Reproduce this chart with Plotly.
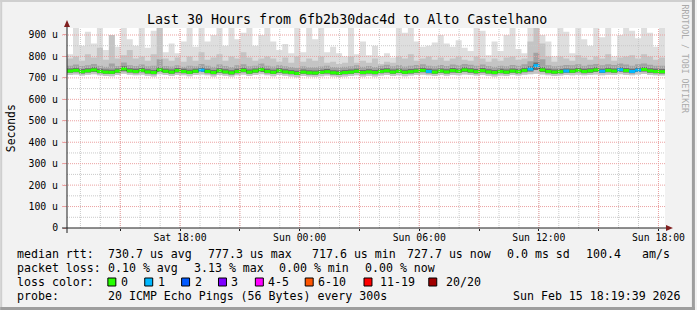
import plotly.graph_objects as go
import pandas as pd

# ---------------- data ----------------
START = "2026-02-14 12:19:39"
END = "2026-02-15 18:19:39"
STEP = "18min"

median = [732, 735, 729, 733, 737, 730, 727, 726, 732, 742,
          733, 730, 735, 728, 725, 737, 731, 727, 734, 730,
          726, 731, 736, 730, 725, 733, 728, 724, 730, 735,
          727, 732, 738, 730, 726, 733, 728, 725, 721, 727,
          724, 723, 726, 729, 724, 722, 725, 727, 731, 725,
          728, 725, 730, 733, 727, 731, 726, 729, 732, 735,
          730, 727, 732, 728, 734, 731, 737, 733, 729, 734,
          728, 725, 730, 727, 732, 729, 735, 741, 757, 737,
          730, 727, 729, 732, 731, 735, 730, 733, 737, 731,
          735, 732, 738, 734, 730, 736, 739, 733, 730, 729]

loss = [0, 0, 0, 0, 0, 0, 0, 0, 0, 0,
        0, 0, 0, 0, 0, 0, 0, 0, 0, 0,
        0, 0, 1, 0, 0, 0, 0, 0, 0, 0,
        0, 0, 0, 0, 0, 0, 0, 0, 0, 0,
        0, 0, 0, 0, 0, 0, 0, 0, 0, 0,
        0, 0, 0, 0, 0, 0, 0, 0, 0, 0,
        1, 0, 0, 0, 0, 0, 0, 0, 0, 0,
        0, 0, 0, 0, 0, 0, 0, 1, 1, 0,
        0, 0, 0, 1, 0, 0, 0, 0, 0, 1,
        0, 0, 1, 0, 1, 1, 0, 0, 0, 0]

top_a = [810, 935, 850, 915, 860, 935, 830, 900, 845, 935,
         880, 850, 935, 840, 920, 935, 820, 860, 815, 870,
         935, 845, 935, 870, 900, 935, 850, 935, 880, 910,
         935, 850, 900, 935, 870, 830, 858, 815, 935, 820,
         935, 880, 935, 820, 845, 815, 800, 935, 810, 870,
         805, 850, 800, 815, 795, 935, 910, 935, 870, 845,
         850, 865, 900, 860, 845, 875, 840, 825, 935, 920,
         805, 870, 825, 900, 935, 835, 815, 935, 935, 900,
         870, 800, 935, 915, 815, 935, 880, 850, 935, 890,
         935, 800, 900, 935, 920, 885, 935, 910, 845, 935]

top_b = [790, 800, 780, 810, 795, 840, 785, 900, 790, 805,
         830, 790, 800, 780, 810, 935, 790, 780, 795, 775,
         800, 780, 820, 785, 795, 810, 780, 800, 790, 820,
         795, 780, 790, 800, 790, 775, 795, 770, 800, 775,
         790, 780, 800, 770, 775, 765, 770, 800, 770, 780,
         770, 790, 765, 775, 770, 800, 790, 810, 780, 790,
         800, 785, 795, 780, 790, 800, 785, 780, 800, 790,
         775, 790, 780, 795, 800, 785, 790, 870, 935, 860,
         800, 775, 800, 790, 780, 805, 795, 785, 800, 790,
         810, 780, 795, 800, 805, 790, 810, 800, 785, 795]

top_c = [757, 762, 755, 759, 765, 757, 752, 767, 755, 772,
         759, 755, 762, 754, 757, 787, 755, 753, 759, 752,
         757, 754, 765, 757, 752, 762, 755, 751, 759, 763,
         754, 757, 767, 757, 753, 759, 754, 751, 747, 754,
         750, 749, 753, 757, 751, 749, 752, 754, 759, 752,
         755, 751, 757, 761, 754, 759, 753, 756, 760, 763,
         757, 754, 760, 755, 762, 759, 765, 761, 757, 762,
         755, 752, 757, 754, 760, 757, 763, 777, 817, 787,
         759, 754, 757, 760, 759, 763, 757, 761, 765, 759,
         763, 760, 767, 762, 757, 764, 767, 761, 757, 756]

top_d = [744, 747, 741, 745, 749, 742, 739, 738, 744, 755,
         745, 742, 747, 740, 737, 749, 743, 739, 746, 742,
         738, 743, 748, 742, 737, 745, 740, 736, 742, 747,
         739, 744, 750, 742, 738, 745, 740, 737, 733, 739,
         736, 735, 738, 741, 736, 734, 737, 739, 743, 737,
         740, 737, 742, 745, 739, 743, 738, 741, 744, 747,
         742, 739, 744, 740, 746, 743, 749, 745, 741, 746,
         740, 737, 742, 739, 744, 741, 747, 754, 772, 749,
         742, 739, 741, 744, 743, 747, 742, 745, 749, 743,
         747, 744, 750, 746, 742, 748, 751, 745, 742, 741]

bot_inner = [724, 726, 721, 725, 728, 722, 719, 718, 724, 731,
             725, 722, 726, 720, 717, 728, 723, 719, 725, 722,
             718, 723, 727, 722, 717, 724, 720, 716, 722, 726,
             719, 724, 728, 722, 718, 724, 720, 717, 713, 719,
             716, 715, 718, 721, 716, 714, 717, 719, 723, 717,
             720, 717, 722, 725, 719, 723, 718, 721, 724, 726,
             722, 719, 724, 720, 725, 723, 728, 724, 721, 725,
             720, 717, 722, 719, 724, 721, 726, 730, 737, 728,
             722, 719, 721, 724, 723, 726, 722, 724, 728, 723,
             726, 724, 729, 725, 722, 727, 730, 724, 722, 721]

bot_outer = [713, 716, 711, 715, 717, 712, 709, 708, 714, 719,
             715, 712, 715, 710, 707, 717, 713, 709, 714, 712,
             708, 713, 716, 712, 707, 713, 710, 706, 712, 715,
             709, 714, 717, 712, 708, 713, 710, 707, 703, 709,
             706, 705, 708, 711, 706, 704, 707, 709, 712, 707,
             710, 707, 711, 714, 709, 712, 708, 711, 713, 715,
             712, 709, 713, 710, 714, 712, 716, 713, 711, 714,
             710, 707, 711, 709, 713, 711, 715, 717, 719, 716,
             712, 709, 711, 713, 712, 715, 712, 713, 716, 712,
             715, 713, 717, 714, 712, 716, 718, 713, 712, 711]

y_major = [0, 100, 200, 300, 400, 500, 600, 700, 800, 900]
y_labels = ["0", "100 u", "200 u", "300 u", "400 u", "500 u",
            "600 u", "700 u", "800 u", "900 u"]
y_minor = [50, 150, 250, 350, 450, 550, 650, 750, 850]
Y_MAX = 932.6

x_major = ["2026-02-14 15:00", "2026-02-14 18:00", "2026-02-14 21:00",
           "2026-02-15 00:00", "2026-02-15 03:00", "2026-02-15 06:00",
           "2026-02-15 09:00", "2026-02-15 12:00", "2026-02-15 15:00",
           "2026-02-15 18:00"]
x_labels = ["", "Sat 18:00", "", "Sun 00:00", "", "Sun 06:00", "",
            "Sun 12:00", "", "Sun 18:00"]

loss_labels = ["0", "1", "2", "3", "4-5", "6-10", "11-19", "20/20"]
loss_colors = ["#26ff00", "#00b8ff", "#0059ff", "#7e00ff", "#ff00ff",
               "#ff5500", "#ff0000", "#a10000"]

title = "Last 30 Hours from 6fb2b30dac4d to Alto Castelhano"
stats_rtt = ["median rtt:", "730.7 us avg", "777.3 us max", "717.6 us min",
             "727.7 us now", "0.0 ms sd", "100.4", "am/s"]
stats_loss = ["packet loss:", "0.10 % avg", "3.13 % max", "0.00 % min",
              "0.00 % now"]
probe = ["probe:", "20 ICMP Echo Pings (56 Bytes) every 300s",
         "Sun Feb 15 18:19:39 2026"]

# ---------------- layout constants ----------------
W, H = 697, 310
L, R, T, B = 67, 667, 28, 228
MONO = "DejaVu Sans Mono"


def px(xp):
    return (xp - L) / (R - L)


def py(yp):
    return (B - yp) / (B - T)


edges = pd.date_range(START, periods=len(median) + 1, freq=STEP)
x_minor = pd.date_range("2026-02-14 13:00", END, freq="1h")

fig = go.Figure()


def step_y(vals):
    return list(vals) + [vals[-1]]


bands = [(bot_outer, top_a, "#dedede"),
         (bot_outer, top_b, "#c4c4c4"),
         (bot_inner, top_c, "#a2a2a2"),
         (bot_inner, top_d, "#6e6e6e")]
for lo, hi, col in bands:
    fig.add_trace(go.Scatter(x=edges, y=step_y(lo), mode="lines",
                             line=dict(width=0, shape="hv"),
                             hoverinfo="skip"))
    fig.add_trace(go.Scatter(x=edges, y=step_y(hi), mode="lines",
                             line=dict(width=0, shape="hv"),
                             fill="tonexty", fillcolor=col,
                             hoverinfo="skip"))

# dark median line (shows vertical transitions)
fig.add_trace(go.Scatter(x=edges, y=step_y(median), mode="lines",
                         line=dict(width=1, shape="hv", color="#202020"),
                         hoverinfo="skip"))

# coloured median segments by loss
segs = {}
for i, m in enumerate(median):
    sx, sy = segs.setdefault(loss[i], ([], []))
    sx += [edges[i], edges[i + 1], None]
    sy += [m, m, None]
for lv, (sx, sy) in segs.items():
    fig.add_trace(go.Scatter(x=sx, y=sy, mode="lines",
                             line=dict(width=3, color=loss_colors[lv]),
                             hoverinfo="skip"))

shapes = []
GRID = "#c9c9c9"
MGRID = "#eba0a0"
DOT = "1px,1px"
for t in x_minor:
    shapes.append(dict(type="line", xref="x", yref="paper", x0=t, x1=t,
                       y0=0, y1=1, layer="above",
                       line=dict(color=GRID, width=1, dash=DOT)))
for v in y_minor:
    shapes.append(dict(type="line", xref="paper", yref="y", x0=0, x1=1,
                       y0=v, y1=v, layer="above",
                       line=dict(color=GRID, width=1, dash=DOT)))
for t in x_major:
    shapes.append(dict(type="line", xref="x", yref="paper", x0=t, x1=t,
                       y0=0, y1=1, layer="above",
                       line=dict(color=MGRID, width=1, dash=DOT)))
for v in y_major[1:]:
    shapes.append(dict(type="line", xref="paper", yref="y", x0=px(62), x1=1,
                       y0=v, y1=v, layer="above",
                       line=dict(color=MGRID, width=1, dash=DOT)))

AXIS = "#1f1f1f"
ARROW = "#801f1f"
# axes lines + arrows
shapes.append(dict(type="line", xref="paper", yref="paper", x0=px(62),
                   x1=px(669), y0=0, y1=0, layer="above",
                   line=dict(color=AXIS, width=1)))
shapes.append(dict(type="line", xref="paper", yref="paper", x0=0, x1=0,
                   y0=py(233), y1=py(26), layer="above",
                   line=dict(color=AXIS, width=1)))
shapes.append(dict(type="path", xref="paper", yref="paper", layer="above",
                   path=f"M {px(668)} {py(225)} L {px(675)} {py(228)} "
                        f"L {px(668)} {py(231)} Z",
                   fillcolor=ARROW, line=dict(color=ARROW, width=0)))
shapes.append(dict(type="path", xref="paper", yref="paper", layer="above",
                   path=f"M {px(64)} {py(27)} L {px(67)} {py(20)} "
                        f"L {px(70)} {py(27)} Z",
                   fillcolor=ARROW, line=dict(color=ARROW, width=0)))

# outer frame (shade A top/left, shade B bottom/right)
shapes.append(dict(type="rect", xref="paper", yref="paper", layer="above",
                   x0=px(0), x1=px(W), y0=py(0), y1=py(2),
                   fillcolor="#cfcfcf", line=dict(width=0)))
shapes.append(dict(type="rect", xref="paper", yref="paper", layer="above",
                   x0=px(0), x1=px(2), y0=py(0), y1=py(H),
                   fillcolor="#cfcfcf", line=dict(width=0)))
shapes.append(dict(type="rect", xref="paper", yref="paper", layer="above",
                   x0=px(W - 3), x1=px(W), y0=py(0), y1=py(H),
                   fillcolor="#9e9e9e", line=dict(width=0)))
shapes.append(dict(type="rect", xref="paper", yref="paper", layer="above",
                   x0=px(0), x1=px(W), y0=py(H - 3), y1=py(H),
                   fillcolor="#9e9e9e", line=dict(width=0)))

# loss colour boxes
box_x = [108, 145, 182, 219, 256, 306, 365, 430]
lab_x = [120, 157, 194, 231, 268, 318, 380, 446]
for bx, col in zip(box_x, loss_colors):
    shapes.append(dict(type="rect", xref="paper", yref="paper", layer="above",
                       x0=px(bx), x1=px(bx + 8), y0=py(286), y1=py(278),
                       fillcolor=col, line=dict(color="black", width=1)))

ann = []


def txt(s, xp, yp, size=11.6, color="black", anchor="left", angle=0):
    ann.append(dict(text=s, x=px(xp), y=py(yp), xref="paper", yref="paper",
                    xanchor=anchor, yanchor="middle", showarrow=False,
                    textangle=angle, borderpad=0,
                    font=dict(family=MONO, size=size, color=color)))


txt(title, 347.5, 19, size=13.3, anchor="center")
txt("Seconds", 11, 128, size=11.4, anchor="center", angle=-90)
txt("RRDTOOL / TOBI OETIKER", 687.5, 59, size=8.2, color="#aaaaaa",
    anchor="center", angle=90)

rtt_x = [16, 107, 207, 311.5, 407, 507, 586.5, 642.5]
for s, xp in zip(stats_rtt, rtt_x):
    txt(s, xp, 253.5)
loss_x = [16, 107, 193, 279, 365]
for s, xp in zip(stats_loss, loss_x):
    txt(s, xp, 268)
txt("loss color:", 16, 282)
for s, xp in zip(loss_labels, lab_x):
    txt(s, xp, 282)
probe_x = [16, 107, 513]
for s, xp in zip(probe, probe_x):
    txt(s, xp, 296)

fig.update_layout(
    width=W, height=H,
    margin=dict(l=L, r=W - R, t=T, b=H - B, pad=0),
    paper_bgcolor="#f2f2f2", plot_bgcolor="#ffffff",
    showlegend=False, hovermode=False,
    shapes=shapes, annotations=ann,
    xaxis=dict(type="date", range=[START, END], tickvals=x_major,
               ticktext=x_labels, showgrid=False, zeroline=False,
               showline=False, ticks="outside", ticklen=2,
               tickcolor=AXIS, ticklabelstandoff=-2,
               tickfont=dict(family=MONO, size=9.8, color="black")),
    yaxis=dict(range=[0, Y_MAX], tickvals=y_major, ticktext=y_labels,
               showgrid=False, zeroline=False, showline=False,
               ticks="outside", ticklen=3, tickcolor=MGRID,
               ticklabelstandoff=3,
               tickfont=dict(family=MONO, size=9.8, color="black")),
)

fig.write_html("out.html", config={"displayModeBar": False})
